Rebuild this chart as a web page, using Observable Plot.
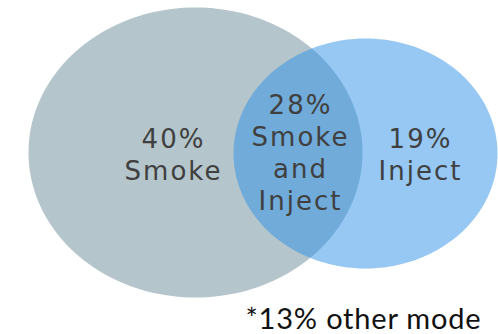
<!DOCTYPE html>
<html>
<head>
<meta charset="utf-8">
<script src="https://cdn.jsdelivr.net/npm/d3@7"></script>
<script src="https://cdn.jsdelivr.net/npm/@observablehq/plot@0.6"></script>
<style>
  html, body { margin: 0; padding: 0; background: #fff; }
</style>
</head>
<body>
<div id="chart"></div>
<script>
// ---- data ----
const setNames = ["Smoke", "Inject"];
const setColors = ["#b4c5cb", "#2d91e7"];
const setOpacity = [1, 0.5];
// ellipse geometry (pixel units)
const setCx = [195, 365];
const setCy = [152, 153];
const setRx = [167, 132];
const setRy = [145, 115];

const regionPercents = ["40%", "28%", "19%"];
const regionNames = [["Smoke"], ["Smoke", "and", "Inject"], ["Inject"]];
const regionX = [172, 299, 419];
const regionFirstBaseline = [147, 113, 147];
const lineStep = 32.3;

const footnote = "*13% other mode";

// ---- build ----
const W = 498, H = 334;
const ellipsePts = [];
setNames.forEach((name, i) => {
  for (let a = 0; a < 360; a += 2) {
    const t = a * Math.PI / 180;
    ellipsePts.push({
      name,
      x: setCx[i] + setRx[i] * Math.cos(t),
      y: setCy[i] + setRy[i] * Math.sin(t)
    });
  }
});

const labelRows = [];
regionPercents.forEach((p, i) => {
  const lines = [p, ...regionNames[i]];
  lines.forEach((txt, j) => {
    labelRows.push({ text: txt, x: regionX[i], y: regionFirstBaseline[i] + j * lineStep });
  });
});

const fontSize = 26;
const ls = 2;
const chart = Plot.plot({
  width: W,
  height: H,
  margin: 0,
  x: { domain: [0, W], range: [0, W], axis: null },
  y: { domain: [0, H], range: [0, H], axis: null },
  style: { background: "#fff" },
  marks: setNames.map((name, i) =>
    Plot.line(ellipsePts.filter(d => d.name === name), {
      x: "x", y: "y", curve: "linear-closed",
      fill: setColors[i], fillOpacity: setOpacity[i], stroke: "none"
    })
  ).concat([
    Plot.text(labelRows, {
      x: "x", y: d => d.y - 0.32 * fontSize, text: "text",
      dx: ls / 2,
      lineAnchor: "middle", textAnchor: "middle",
      fontSize, fill: "#404040",
      fontFamily: "DejaVu Sans", fontWeight: 400,
      className: "region-label"
    }),
    Plot.text([footnote], {
      x: 245, y: 328 - 0.32 * 29, text: d => d,
      lineAnchor: "middle", textAnchor: "start",
      fontSize: 29, fill: "#111", fontFamily: "Lato",
      className: "footnote"
    })
  ])
});
chart.querySelectorAll(".region-label text").forEach(t => t.style.letterSpacing = ls + "px");
chart.querySelectorAll(".footnote text").forEach(t => t.style.letterSpacing = "0.8px");
document.getElementById("chart").append(chart);
</script>
</body>
</html>
